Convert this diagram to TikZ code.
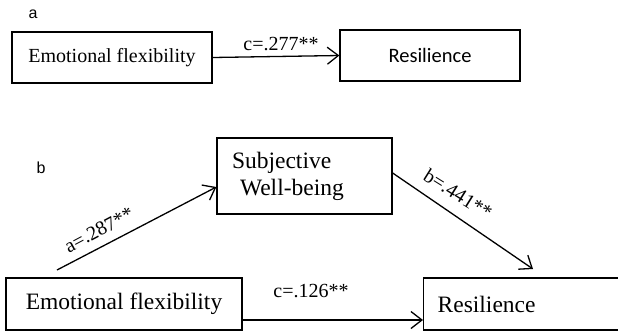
\documentclass[tikz,border=0pt]{standalone}
\usepackage{fontspec}
\setmainfont{Liberation Serif}
\newfontfamily\arialf{Liberation Sans}
\newfontfamily\calibrif{Carlito}
\usetikzlibrary{arrows.meta,calc}
\begin{document}
\begin{tikzpicture}[x=1pt,y=-1pt,
  box/.style={draw,line width=1.3pt,inner sep=0pt,rectangle},
  arr/.style={line width=1.3pt,-{Straight Barb[length=11pt,width=17pt,line width=1.3pt]}},
  lbl/.style={font=\fontsize{20}{24}\selectfont,inner sep=0pt},
  big/.style={font=\fontsize{23.5}{27}\selectfont},
  panel/.style={font=\arialf\fontsize{16}{19}\selectfont,inner sep=0pt}]
\clip (0,0) rectangle (618,333);
\fill[white] (0,0) rectangle (618,333);
% panel a
\node[panel] (la) at (33,14.5) {a};
\node[box,minimum width=200pt,minimum height=51pt,font=\fontsize{20}{24}\selectfont] (a1) at (112,57.5) {Emotional flexibility};
\node[box,minimum width=180pt,minimum height=51pt,font=\calibrif\fontsize{20.5}{24}\selectfont] (a2) at (430,55.5) {Resilience};
\draw[arr] (a1.east) -- (a2.west);
\node[lbl] (lc1) at (281,44) {c=.277**};
% panel b
\node[panel] (lb) at (41,168) {b};
\node[box,big,minimum width=236pt,minimum height=52pt] (e1) at (124,304) {Emotional flexibility};
\node[box,big,anchor=west,minimum width=230pt,minimum height=52pt,text width=202pt,inner xsep=14pt,align=left] (r2) at (423,304) {Resilience};
\node[box,big,minimum width=175pt,minimum height=76pt,text width=145pt,inner xsep=15pt,align=left] (s) at (304.5,176) {Subjective\\\hspace*{8pt}Well-being};
\coordinate (astart) at (57,270);
\draw[arr] (astart) -- ($(s.west)+(0,11)$);
\coordinate (bend) at (533,269);
\draw[arr] ($(s.east)+(0,-3)$) -- (bend);
\coordinate (cstart) at ($(e1.east)+(0,16)$);
\draw[arr] (cstart) -- (cstart -| r2.west);
\node[lbl] (lc2) at (311,291) {c=.126**};
\node[lbl,rotate=28] (la2) at (99,230) {a=.287**};
\node[lbl,rotate=-32] (lb2) at (458,194) {b=.441**};
\end{tikzpicture}
\end{document}
